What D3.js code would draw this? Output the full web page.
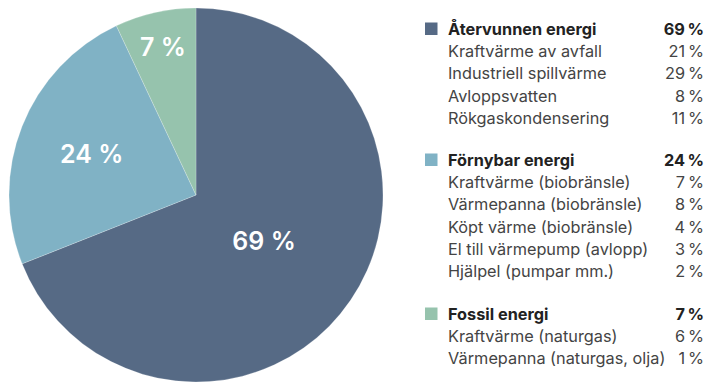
<!DOCTYPE html>
<html>
<head>
<meta charset="utf-8">
<script src="https://cdn.jsdelivr.net/npm/d3@7"></script>
<style>
  html, body { margin: 0; padding: 0; background: #fff; }
  svg { display: block; }
</style>
</head>
<body>
<svg id="chart" width="709" height="383"></svg>
<script>
// Energy source shares (percent)
const groups = ["Återvunnen energi", "Förnybar energi", "Fossil energi"];
const groupValues = [69, 24, 7];
const groupColors = ["#566a85", "#80b2c5", "#96c3ad"];

const recoveredItems = ["Kraftvärme av avfall", "Industriell spillvärme", "Avloppsvatten", "Rökgaskondensering"];
const recoveredValues = [21, 29, 8, 11];

const renewableItems = ["Kraftvärme (biobränsle)", "Värmepanna (biobränsle)", "Köpt värme (biobränsle)", "El till värmepump (avlopp)", "Hjälpel (pumpar mm.)"];
const renewableValues = [7, 8, 4, 3, 2];

const fossilItems = ["Kraftvärme (naturgas)", "Värmepanna (naturgas, olja)"];
const fossilValues = [6, 1];

const subItems = [recoveredItems, renewableItems, fossilItems];
const subValues = [recoveredValues, renewableValues, fossilValues];

const svg = d3.select("#chart");
const fontFamily = "Inter, 'Noto Sans', sans-serif";
const pct = v => v + "\u2009%";

// Pie
const cx = 196, cy = 195, r = 187;
const labelRadius = [0.44, 0.6, 0.81];
const pie = d3.pie().sort(null).value(d => d)(groupValues);
const arc = d3.arc().innerRadius(0).outerRadius(r);
const g = svg.append("g").attr("transform", `translate(${cx},${cy})`);
g.selectAll("path.slice")
  .data(pie)
  .join("path")
  .attr("class", "slice")
  .attr("d", arc)
  .attr("fill", (d, i) => groupColors[i])
  .attr("stroke", "rgba(255,255,255,0.35)")
  .attr("stroke-width", 0.6);

g.selectAll("text.plabel")
  .data(pie)
  .join("text")
  .attr("class", "plabel")
  .attr("transform", (d, i) => {
    const la = d3.arc().innerRadius(r * labelRadius[i]).outerRadius(r * labelRadius[i]);
    const [x, y] = la.centroid(d);
    return `translate(${x},${y})`;
  })
  .attr("text-anchor", "middle")
  .attr("dominant-baseline", "central")
  .attr("fill", "#fff")
  .attr("font-family", "Inter, 'Open Sans', sans-serif")
  .attr("font-weight", 600)
  .attr("font-size", 25)
  .text((d, i) => groupValues[i] + " %");

// Legend
const legX = 425, textX = 448, valX = 704;
const lineH = 22.2;
const groupTops = [29, 160, 314];
const leg = svg.append("g").attr("font-family", fontFamily).attr("font-size", 16.3).attr("fill", "#444");

groups.forEach((name, gi) => {
  const y0 = groupTops[gi];
  leg.append("rect")
    .attr("x", legX).attr("y", y0 - 6.5)
    .attr("width", 12.5).attr("height", 12.5)
    .attr("fill", groupColors[gi]);
  leg.append("text")
    .attr("x", textX).attr("y", y0)
    .attr("dominant-baseline", "central")
    .attr("font-weight", 700)
    .attr("fill", "#222")
    .text(name);
  leg.append("text")
    .attr("x", valX).attr("y", y0)
    .attr("text-anchor", "end")
    .attr("dominant-baseline", "central")
    .attr("font-weight", 700)
    .attr("fill", "#222")
    .text(pct(groupValues[gi]));
  subItems[gi].forEach((item, k) => {
    const y = y0 + lineH * (k + 1);
    leg.append("text")
      .attr("x", textX).attr("y", y)
      .attr("dominant-baseline", "central")
      .text(item);
    leg.append("text")
      .attr("x", valX).attr("y", y)
      .attr("text-anchor", "end")
      .attr("dominant-baseline", "central")
      .text(pct(subValues[gi][k]));
  });
});
</script>
</body>
</html>
